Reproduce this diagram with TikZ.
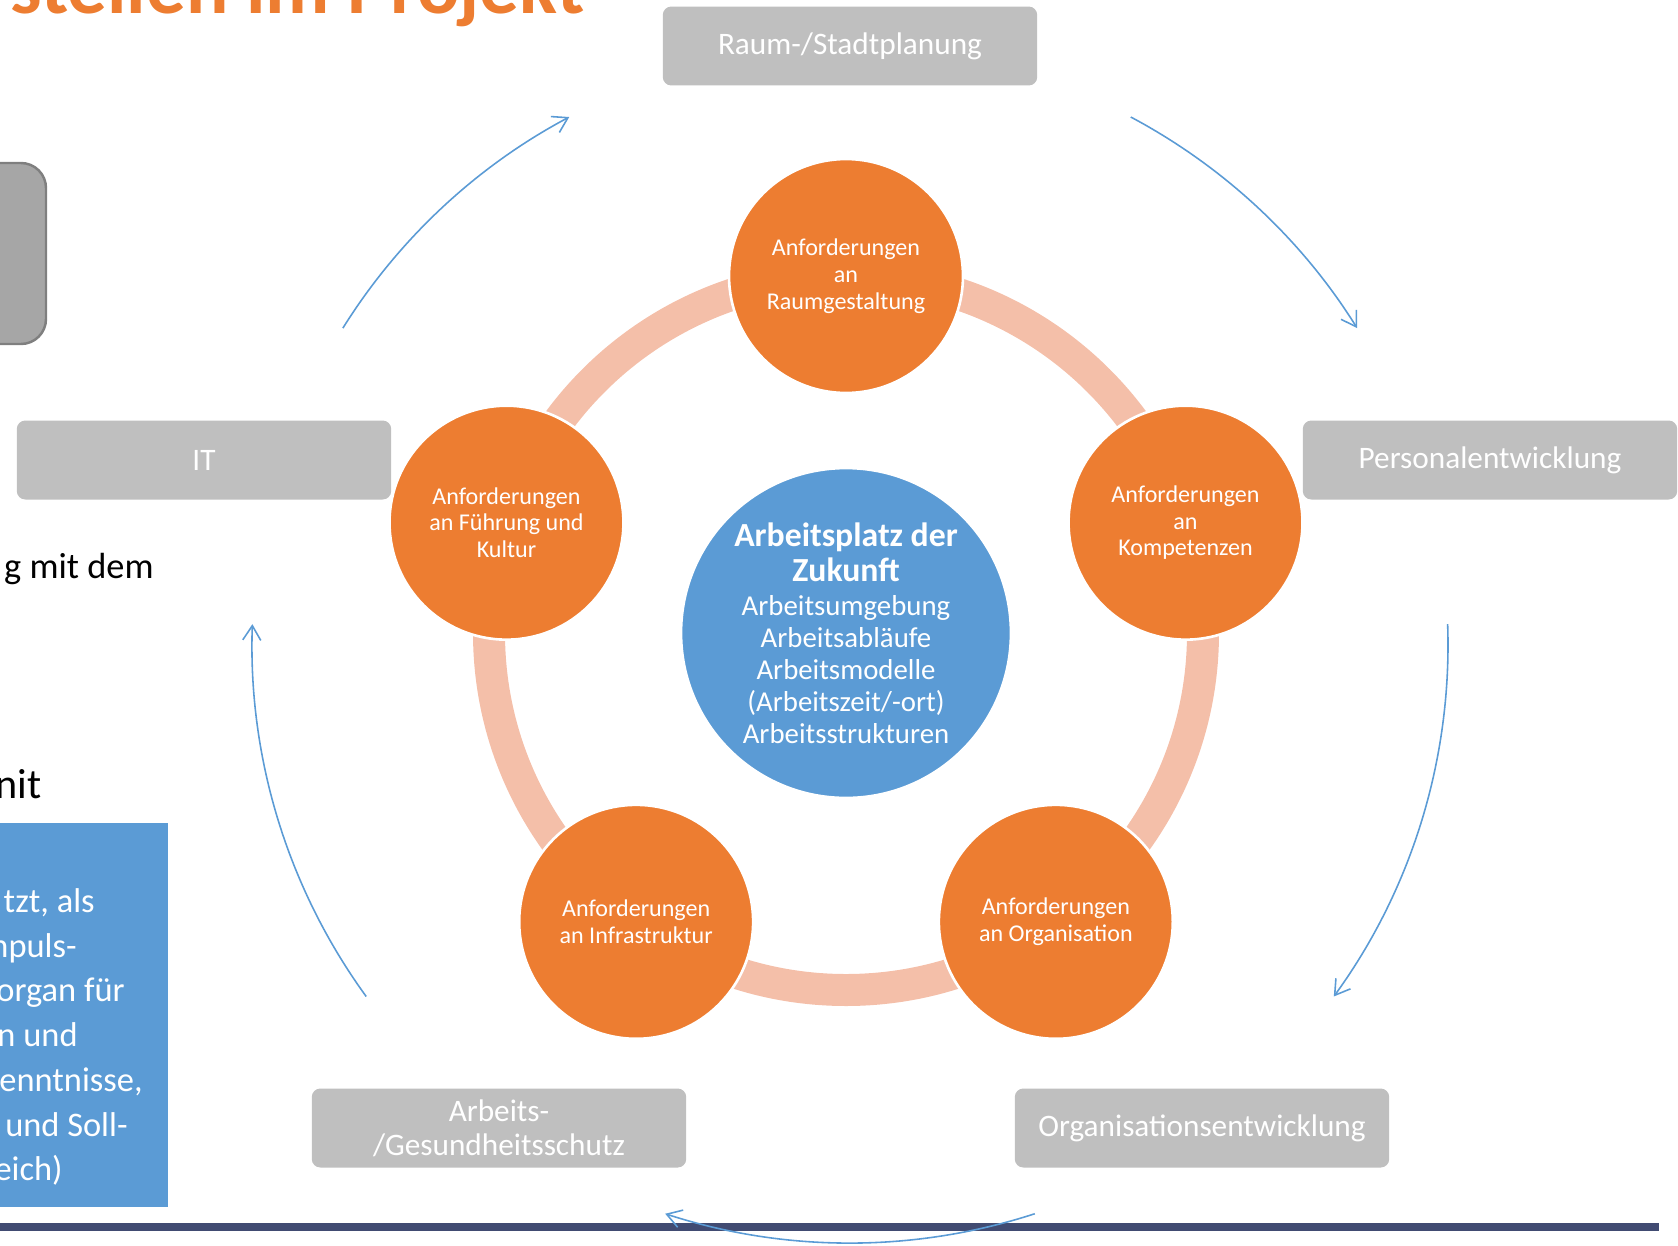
\documentclass[tikz,border=0pt]{standalone}
\usepackage{fontspec}
\setmainfont{Carlito}
\usetikzlibrary{calc,arrows.meta}

\definecolor{akzorange}{HTML}{ED7D31}
\definecolor{akzblau}{HTML}{5B9BD5}
\definecolor{ringrosa}{HTML}{F4BFA9}
\definecolor{kastengrau}{HTML}{BFBFBF}
\definecolor{restgrau}{HTML}{A6A6A6}
\definecolor{randgrau}{HTML}{7F7F7F}
\definecolor{leistenblau}{HTML}{414B72}

\tikzset{
  anf/.style={circle,fill=akzorange,draw=white,line width=1.5pt,minimum size=4.68cm,
    inner sep=0pt,text=white,align=center,font=\fontsize{13.7}{15.3}\selectfont},
  bereich/.style={rectangle,rounded corners=0.17cm,fill=kastengrau,minimum width=7.49cm,
    minimum height=1.58cm,text=white,align=center,font=\fontsize{17.8}{19.4}\selectfont},
  zyklus/.style={akzblau,line width=0.9pt,->},
  rest/.style={anchor=base east,inner sep=0pt},
}

\begin{document}
\begin{tikzpicture}[x=0.02cm,y=-0.02cm,>={Straight Barb[length=2.9mm,width=3.6mm]}]
  \useasboundingbox (0,0) rectangle (1678,1245);
  \coordinate (C) at (846,633);              % Mitte Fuenfeck
  \coordinate (Z) at (850,645);              % Mitte Pfeilkreis

  % Reste der Folie (links abgeschnitten)
  \node[rest,text=akzorange,font=\bfseries\fontsize{45}{54}\selectfont] (titel) at (585,13) {stellen im Projekt};
  \draw[fill=restgrau,draw=randgrau,line width=1.4pt,rounded corners=0.5cm] (-60,163) rectangle (46,344);
  \node[rest,font=\fontsize{20.7}{24}\selectfont] (zeile1) at (154,578) {g mit dem};
  \node[rest,font=\fontsize{24}{28}\selectfont] (zeile2) at (42,798) {nit};
  \fill[akzblau] (-10,823) rectangle (168,1207);
  \begin{scope}[every node/.style={rest,text=white,font=\fontsize{19.6}{25}\selectfont}]
    \node (b1) at (95,912)  {tzt, als};
    \node (b2) at (77,957)  {npuls-};
    \node (b3) at (125,1001) {organ für};
    \node (b4) at (78,1046)  {n und};
    \node (b5) at (143,1091) {enntnisse,};
    \node (b6) at (128,1136) {und Soll-};
    \node (b7) at (63,1180)  {eich)};
  \end{scope}
  \fill[leistenblau] (0,1223) rectangle (1659,1231);

  % Ring und Kreise
  \draw[ringrosa,line width=0.64cm] (C) circle[radius=357];
  \node[circle,fill=akzblau,draw=white,line width=1.5pt,minimum size=6.6cm,inner sep=0pt,
        text=white,align=center,font=\fontsize{16.4}{18.2}\selectfont] (mitte) at (C)
    {{\bfseries\fontsize{19.2}{21.3}\selectfont Arbeitsplatz der}\\[2pt]
     {\bfseries\fontsize{19.2}{21.3}\selectfont Zukunft}\\[1pt]
     Arbeitsumgebung\\Arbeitsabläufe\\Arbeitsmodelle\\(Arbeitszeit/-ort)\\Arbeitsstrukturen};
  \node[anf] (raumg) at ($(C)+(-90:357)$) {Anforderungen\\an\\Raumgestaltung};
  \node[anf] (komp)  at ($(C)+(-18:357)$) {Anforderungen\\an\\Kompetenzen};
  \node[anf] (org)   at ($(C)+(54:357)$)  {Anforderungen\\an Organisation};
  \node[anf] (infra) at ($(C)+(126:357)$) {Anforderungen\\an Infrastruktur};
  \node[anf] (fuehr) at ($(C)+(198:357)$) {Anforderungen\\an Führung und\\Kultur};

  % Bereiche aussen
  \node[bereich] (raum) at (850,46)   {Raum-/Stadtplanung};
  \node[bereich] (pers) at (1490,460) {Personalentwicklung};
  \node[bereich] (orga) at (1202,1128) {Organisationsentwicklung};
  \node[bereich] (arbs) at (499,1128) {Arbeits-\\/Gesundheitsschutz};
  \node[bereich] (it)   at (204,460)  {IT};

  % Pfeile im Kreis
  \coordinate (p1) at ($(Z)+(-148:598)$);
  \coordinate (p2) at ($(Z)+(-62:598)$);
  \coordinate (p3) at ($(Z)+(-2:598)$);
  \coordinate (p4) at ($(Z)+(72:598)$);
  \coordinate (p5) at ($(Z)+(144:598)$);
  \draw[zyklus] (p1) arc[start angle=-148,end angle=-118,radius=598];
  \draw[zyklus] (p2) arc[start angle=-62,end angle=-32,radius=598];
  \draw[zyklus] (p3) arc[start angle=-2,end angle=36,radius=598];
  \draw[zyklus] (p4) arc[start angle=72,end angle=108,radius=598];
  \draw[zyklus] (p5) arc[start angle=144,end angle=182,radius=598];
\end{tikzpicture}
\end{document}
